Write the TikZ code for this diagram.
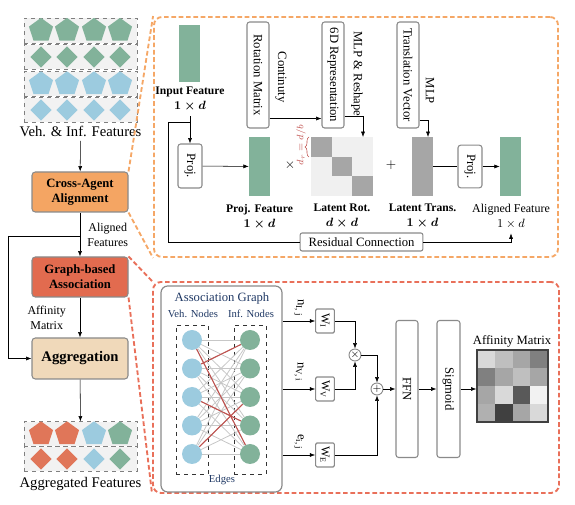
\documentclass[tikz,border=0pt]{standalone}
\usepackage{fontspec}
\setmainfont{Liberation Serif}
\usepackage{amsmath}
\usetikzlibrary{positioning,shapes.geometric,decorations.pathreplacing,arrows.meta}

\definecolor{featgreen}{HTML}{82B29A}
\definecolor{featblue}{HTML}{9CCBDF}
\definecolor{featred}{HTML}{E07659}
\definecolor{alignorange}{HTML}{F4A563}
\definecolor{assocred}{HTML}{E26B4F}
\definecolor{aggbeige}{HTML}{F0D9BA}
\definecolor{dashorange}{HTML}{F5A766}
\definecolor{dashred}{HTML}{E9705A}
\definecolor{boxgrey}{HTML}{8A8A8A}
\definecolor{navy}{HTML}{1F3864}
\definecolor{edgered}{HTML}{C0504D}

\newcommand{\vtxt}[1]{\rotatebox{-90}{#1}}

\tikzset{
  >={Latex[length=4pt,width=3pt]},
  featrow/.style={draw=black!50, dashed, fill=black!5, minimum width=84.75pt, minimum height=18.5pt, inner sep=0pt},
  pent/.style={regular polygon, regular polygon sides=5, minimum size=19pt, inner sep=0pt},
  diam/.style={diamond, minimum size=16pt, inner sep=0pt},
  stage/.style={draw=boxgrey, line width=0.8pt, rounded corners=2.5pt, minimum width=72pt, minimum height=30pt, align=center, font=\fontsize{9.5}{11}\selectfont\bfseries},
  oper/.style={draw=boxgrey, line width=0.8pt, rounded corners=2pt, fill=white, inner sep=0pt, font=\fontsize{9.5}{11}\selectfont},
  vec/.style={minimum width=15.75pt, minimum height=44.25pt, inner sep=0pt},
  lab/.style={align=center, font=\fontsize{9}{11.25}\selectfont},
  blab/.style={lab, font=\fontsize{8.7}{11.25}\selectfont\bfseries\boldmath},
  side/.style={font=\fontsize{9.5}{11}\selectfont},
  zone/.style={dash pattern=on 3.5pt off 2pt, line width=1.4pt},
  gnode/.style={circle, minimum size=15pt, inner sep=0pt},
  wbox/.style={draw=boxgrey, line width=0.8pt, rounded corners=1pt, fill=white, minimum width=14pt, minimum height=18pt, inner sep=0pt, font=\fontsize{9}{10}\selectfont},
  opc/.style={circle, draw=boxgrey, line width=0.7pt, fill=white, minimum size=9pt, inner sep=0pt, font=\fontsize{8}{8}\selectfont},
}

\begin{document}
\begin{tikzpicture}[x=0.75pt, y=-0.75pt]
\useasboundingbox (0,0) rectangle (575,505);

% left column
\foreach \yy/\shp/\col [count=\k] in {30.5/pent/featgreen, 57/diam/featgreen, 84/pent/featblue, 110/diam/featblue}{
  \node[featrow] (vi\k) at (80.5,\yy) {};
  \foreach \xx [count=\m] in {41,67,94,120}
    \node[\shp, fill=\col] (vis\k\m) at (\xx,\yy) {};
}
\node[font=\fontsize{11}{13}\selectfont] (vilab) at (80.5,131) {Veh. \& Inf. Features};

\node[stage, fill=alignorange] (ca) at (80,192) {Cross-Agent\\Alignment};
\node[stage, fill=assocred] (ga) at (80,277) {Graph-based\\Association};
\node[stage, fill=aggbeige, minimum height=30.75pt, font=\fontsize{11}{13}\selectfont\bfseries] (agg) at (80,358.5) {Aggregation};

\draw[->] (vilab) -- (ca);
\draw[->] (ca) -- node[right=2pt, lab, pos=0.5] {Aligned\\Features} (ga);
\draw[->] (ga) -- node[left=7pt, lab] {Affinity\\Matrix} (agg);
\coordinate (br) at (80,236);
\coordinate (brL) at (8,236);
\draw (br) -- (brL);
\draw[->] (brL) |- (agg.west);

\foreach \yy/\shp [count=\k] in {434/pent, 459/diam}{
  \node[featrow] (ag\k) at (80.5,\yy) {};
  \foreach \xx/\col [count=\m] in {41/featred,67/featred,94/featblue,120/featgreen}
    \node[\shp, fill=\col] (ags\k\m) at (\xx,\yy) {};
}
\node[font=\fontsize{11}{13}\selectfont] (aglab) at (80.5,484) {Aggregated Features};
\draw[->] (agg) -- (ag1);

% zoomed panels
\node[draw=dashorange, zone, rounded corners=6pt, minimum width=303pt, minimum height=180pt] (alignbox) at (356,137) {};
\node[draw=dashred, zone, rounded corners=6pt, minimum width=304.5pt, minimum height=158.25pt] (assocbox) at (356,387.5) {};
\draw[dashorange, zone] (ca.north east) -- (alignbox.north west);
\draw[dashorange, zone] (ca.south east) -- (alignbox.south west);
\draw[dashred, zone] (ga.north east) -- (assocbox.north west);
\draw[dashred, zone] (ga.south east) -- (assocbox.south west);

% alignment
\node[vec, fill=featgreen, minimum height=42.75pt] (infeat) at (189.5,53.5) {};
\node[blab] (inlab) at (190,99.5) {Input Feature\\$1\times d$};
\coordinate (jn) at (190,122);
\coordinate (resL) at (168,122);
\node[oper, minimum width=18pt, minimum height=33pt] (proj1) at (190,166) {\vtxt{Proj.}};
\draw (inlab) -- (jn);
\draw[->] (jn) -- (proj1);
\draw (jn) -- (resL);

\node[vec, fill=featgreen] (pfeat) at (259.5,166.5) {};
\draw[->] (proj1) -- (pfeat);
\node[blab] (pflab) at (259.5,216.5) {Proj. Feature\\$1\times d$};
\node[font=\fontsize{10}{10}\selectfont] (mul) at (290,165) {$\times$};

\node[fill=black!6, minimum width=46.5pt, minimum height=44.25pt, inner sep=0pt] (latrot) at (342,166.5) {};
\foreach \k in {0,1,2}
  \fill[black!35] (311+\k*20.67,137+\k*19.67) rectangle ++(20.67,19.67);
\draw[edgered, decorate, decoration={brace, amplitude=3pt}] (309,157) -- (309,137);
\node[rotate=90, text=edgered, font=\fontsize{7}{7}\selectfont] (drlab) at (301,145) {$d_r = d/b$};
\node[blab] (rotlab) at (342,216.5) {Latent Rot.\\$d\times d$};
\node[font=\fontsize{10}{10}\selectfont] (plus) at (391,165) {$+$};

\node[vec, fill=black!35] (lattr) at (422.5,166.5) {};
\node[blab] (trlab) at (422.5,216.5) {Latent Trans.\\$1\times d$};
\node[oper, minimum width=18pt, minimum height=32pt] (proj2) at (470,166.5) {\vtxt{Proj.}};
\node[vec, fill=featgreen] (outfeat) at (510.5,166.5) {};
\node[lab] (outlab) at (511,216.5) {Aligned Feature\\$1\times d$};
\draw (lattr) -- (proj2);
\draw[->] (proj2) -- (outfeat);

\node[oper, minimum width=92pt, minimum height=13.5pt, rounded corners=1.5pt] (res) at (361.5,242) {Residual Connection};
\draw (resL) |- (res);
\draw[->] (res) -| (outlab);

\node[oper, minimum width=16.5pt, minimum height=79.5pt] (rotm) at (258,75) {\vtxt{Rotation Matrix}};
\node[side] (contlab) at (281,77) {\vtxt{Continuty}};
\node[oper, minimum width=16.5pt, minimum height=79.5pt] (sixd) at (333,75) {\vtxt{6D Representation}};
\node[side] (mlplab) at (357,74) {\vtxt{MLP \& Reshape}};
\node[oper, minimum width=16.5pt, minimum height=79.5pt] (transv) at (408,75) {\vtxt{Translation Vector}};
\node[side] (mlptlab) at (430,91) {\vtxt{MLP}};
\draw[->] ([yshift=7.5pt]rotm.south east) -- ([yshift=7.5pt]sixd.south west);
\coordinate (rotin) at (363,137);
\draw[->] ([yshift=9pt]sixd.south east) -| (rotin);
\coordinate (trin) at (428,137);
\draw[->] ([yshift=6pt]transv.south east) -| (trin);

% association
\node[draw=boxgrey, line width=0.9pt, rounded corners=5pt, minimum width=90.75pt, minimum height=154.5pt] (agraph) at (221.5,389) {};
\node[text=navy, font=\fontsize{9.5}{11}\selectfont] (agtitle) at (222,298) {Association Graph};
\node[text=navy, font=\fontsize{8}{9}\selectfont] (vlab) at (193,314) {Veh. Nodes};
\node[text=navy, font=\fontsize{8}{9}\selectfont] (ilab) at (251,314) {Inf. Nodes};
\node[draw=black!80, dashed, line width=0.6pt, minimum width=24pt, minimum height=111.75pt] (vbox) at (192,399.5) {};
\node[draw=black!80, dashed, line width=0.6pt, minimum width=24pt, minimum height=111.75pt] (ibox) at (250,399.5) {};
\foreach \yy [count=\k] in {340,368.5,397,425.5,454}{
  \node[gnode, fill=featblue] (v\k) at (192,\yy) {};
  \node[gnode, fill=featgreen] (i\k) at (250,\yy) {};
}
\foreach \a in {1,...,5}
  \foreach \b in {1,...,5}
    \draw[black!22, line width=0.6pt] (v\a) -- (i\b);
\foreach \a/\b in {1/5,2/1,3/4,5/3}
  \draw[edgered, line width=0.8pt] (v\a) -- (i\b);
\node[text=navy, font=\fontsize{8}{9}\selectfont] (edlab) at (222,480) {Edges};

\node[wbox] (wI) at (325,321) {\vtxt{W\textsubscript{I}}};
\node[wbox] (wV) at (325,389) {\vtxt{W\textsubscript{V}}};
\node[wbox] (wE) at (325,455) {\vtxt{W\textsubscript{E}}};
\node[side] (nIlab) at (299,308) {\vtxt{n\textsubscript{I, j}}};
\node[side] (nVlab) at (299,372) {\vtxt{n\textsubscript{V, i}}};
\node[side] (elab) at (299,442) {\vtxt{e\textsubscript{i, j}}};
\draw[->] (agraph.east |- wI) -- (wI);
\draw[->] (agraph.east |- wV) -- (wV);
\draw[->] (agraph.east |- wE) -- (wE);

\node[opc] (otimes) at (355,355) {$\times$};
\node[opc] (oplus) at (377,389) {$+$};
\draw[->] (wI) -| (otimes);
\draw[->] (wV) -| (otimes);
\draw[->] (otimes) -| (oplus);
\draw[->] (wE) -| (oplus);

\node[oper, minimum width=16.5pt, minimum height=102.75pt] (ffn) at (407,389) {\vtxt{FFN}};
\node[oper, minimum width=17.25pt, minimum height=102.75pt] (sigm) at (448.5,389) {\vtxt{Sigmoid}};
\draw[->] (oplus) -- (ffn);
\draw[->] (ffn) -- (sigm);

\foreach \row [count=\r from 0] in {{15,25,35,50},{50,35,25,35},{35,15,65,5},{31,75,35,15}}
  \foreach \v [count=\c from 0] in \row
    \fill[black!\v] (477+\c*17.75,350+\r*18) rectangle ++(17.75,18);
\node[draw=black!75, line width=1pt, minimum width=53.25pt, minimum height=54pt, inner sep=0pt] (affmat) at (512.5,386) {};
\node[side] (afflab) at (512,341) {Affinity Matrix};
\draw[->] (sigm) -- (sigm -| affmat.west);
\end{tikzpicture}
\end{document}
